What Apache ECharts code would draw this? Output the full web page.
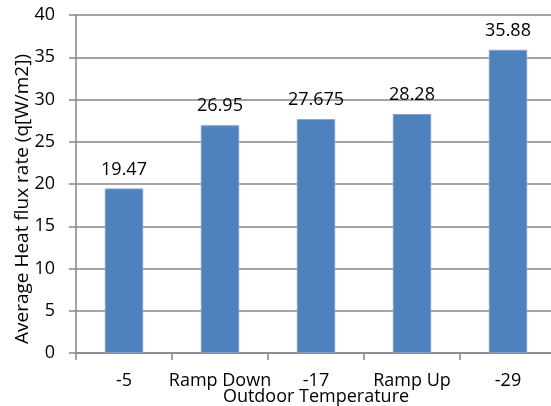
<!DOCTYPE html>
<html>
<head>
<meta charset="utf-8">
<script src="https://cdn.jsdelivr.net/npm/echarts@6/dist/echarts.min.js"></script>
<style>
  html, body { margin: 0; padding: 0; background: #fff; }
  #chart { width: 551px; height: 406px; }
</style>
</head>
<body>
<div id="chart"></div>
<script>
const categories = ["-5", "Ramp Down", "-17", "Ramp Up", "-29"]
const heatFlux = [19.47, 26.95, 27.675, 28.28, 35.88]
const labels = ["19.47", "26.95", "27.675", "28.28", "35.88"]

const font = "'Open Sans', 'Liberation Sans', sans-serif"
const axisGray = "#868686"

const chart = echarts.init(document.getElementById("chart"), null, { renderer: "canvas" })

const option = {
  animation: false,
  grid: {
    left: 76,
    top: 15,
    width: 480,
    height: 338,
    outerBoundsMode: "none",
    containLabel: false
  },
  xAxis: {
    type: "category",
    data: categories,
    name: "Outdoor Temperature",
    nameLocation: "middle",
    nameGap: 35,
    nameMoveOverlap: false,
    nameTextStyle: { color: "#000", fontFamily: font, fontSize: 18 },
    axisLine: { lineStyle: { color: axisGray, width: 1.5 } },
    axisTick: { show: true, length: 7, lineStyle: { color: axisGray, width: 1.5 } },
    axisLabel: { color: "#000", fontFamily: font, fontSize: 18, margin: 19, interval: 0 }
  },
  yAxis: {
    type: "value",
    min: 0,
    max: 40,
    interval: 5,
    name: "Average Heat flux rate (q[W/m2])",
    nameLocation: "middle",
    nameGap: 44,
    nameMoveOverlap: false,
    nameTextStyle: { color: "#000", fontFamily: font, fontSize: 19, padding: [0, 0, 0, -30] },
    axisLine: { show: true, lineStyle: { color: axisGray, width: 1.5 } },
    axisTick: { show: true, length: 7, lineStyle: { color: axisGray, width: 1.5 } },
    axisLabel: { color: "#000", fontFamily: font, fontSize: 18, margin: 21 },
    splitLine: { lineStyle: { color: axisGray, width: 1.5 } }
  },
  series: [{
    type: "bar",
    data: heatFlux,
    barWidth: "40%",
    itemStyle: { color: "#4F81BD", borderColor: "#7da1cf", borderWidth: 1 },
    label: {
      show: true,
      position: "top",
      distance: 10,
      color: "#000",
      fontFamily: font,
      fontSize: 18,
      formatter: (p) => labels[p.dataIndex]
    }
  }]
}

chart.setOption(option)
</script>
</body>
</html>
